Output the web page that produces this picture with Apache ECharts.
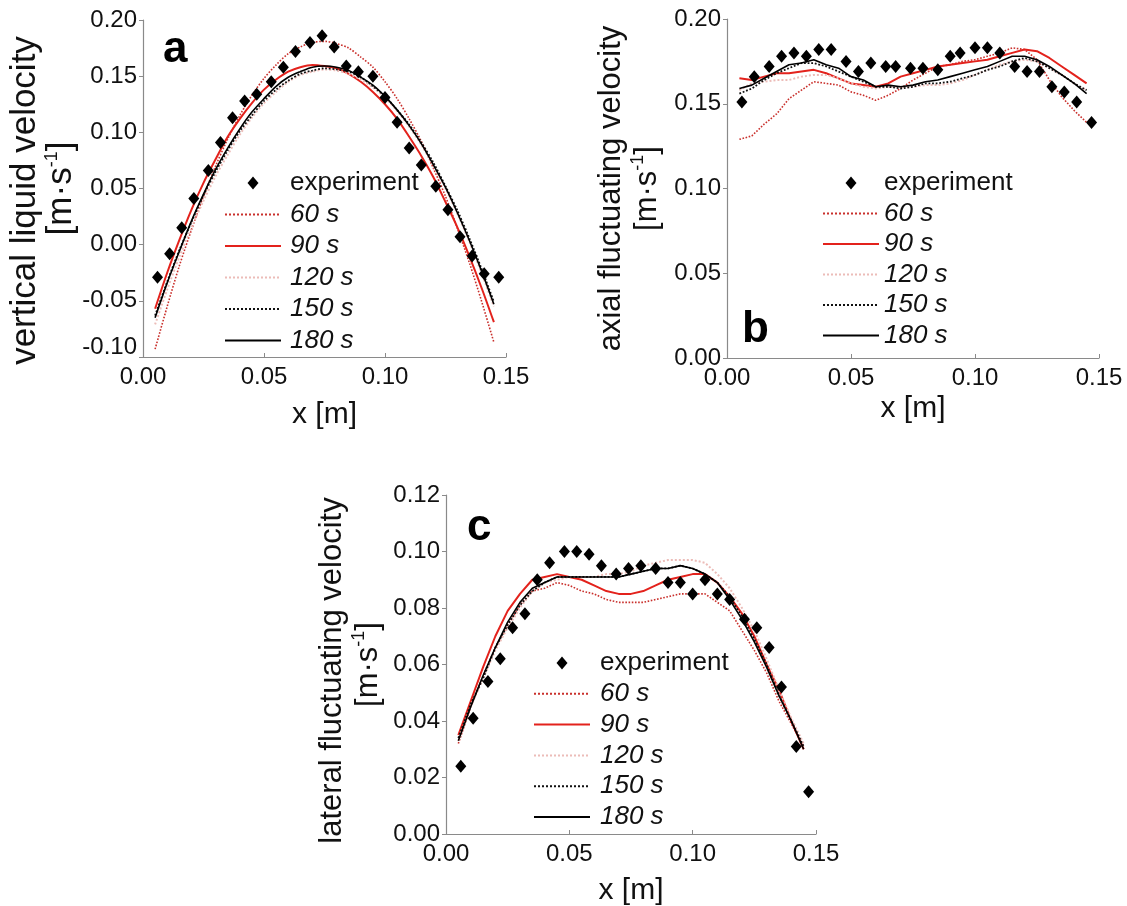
<!DOCTYPE html>
<html><head><meta charset="utf-8">
<script src="https://cdn.jsdelivr.net/npm/echarts@6/dist/echarts.min.js"></script>
<style>html,body{margin:0;padding:0;background:#fff}#c{width:1127px;height:906px}</style>
</head><body><div id="c"></div>
<script>
// ---------- data ----------
const seriesNames = ['experiment', '60 s', '90 s', '120 s', '150 s', '180 s'];
const xTickLabels = ['0.00', '0.05', '0.10', '0.15'];
const xSim = [0.005,0.010,0.015,0.020,0.025,0.030,0.035,0.040,0.045,0.050,0.055,0.060,0.065,0.070,0.075,0.080,0.085,0.090,0.095,0.100,0.105,0.110,0.115,0.120,0.125,0.130,0.135,0.140,0.145];

// panel a : vertical liquid velocity
const aExpX = [0.006,0.011,0.016,0.021,0.027,0.032,0.037,0.042,0.047,0.053,0.058,0.063,0.069,0.074,0.079,0.084,0.089,0.095,0.100,0.105,0.110,0.115,0.121,0.126,0.131,0.136,0.141,0.147];
const aExpY = [-0.029,-0.008,0.015,0.041,0.066,0.091,0.113,0.128,0.134,0.145,0.158,0.172,0.180,0.186,0.176,0.159,0.154,0.150,0.131,0.109,0.086,0.071,0.052,0.031,0.007,-0.010,-0.026,-0.029];
const a60  = [-0.093,-0.055,-0.019,0.013,0.043,0.070,0.094,0.115,0.133,0.148,0.160,0.170,0.176,0.180,0.181,0.179,0.175,0.167,0.158,0.145,0.130,0.112,0.092,0.068,0.043,0.014,-0.017,-0.051,-0.087];
const a90  = [-0.057,-0.025,0.004,0.031,0.055,0.076,0.096,0.112,0.126,0.138,0.147,0.154,0.158,0.160,0.159,0.157,0.152,0.145,0.136,0.125,0.112,0.096,0.079,0.060,0.038,0.015,-0.011,-0.039,-0.069];
const a120 = [-0.071,-0.040,-0.011,0.015,0.039,0.061,0.080,0.098,0.113,0.126,0.136,0.145,0.151,0.154,0.156,0.155,0.152,0.147,0.140,0.131,0.119,0.105,0.089,0.070,0.050,0.027,0.002,-0.026,-0.055];
const a150 = [-0.063,-0.033,-0.005,0.020,0.044,0.065,0.084,0.101,0.115,0.128,0.138,0.146,0.152,0.155,0.157,0.156,0.154,0.149,0.141,0.132,0.120,0.107,0.091,0.073,0.052,0.030,0.005,-0.022,-0.051];
const a180 = [-0.065,-0.034,-0.006,0.021,0.045,0.067,0.086,0.103,0.118,0.130,0.141,0.149,0.154,0.158,0.159,0.158,0.155,0.149,0.142,0.132,0.120,0.106,0.090,0.071,0.051,0.028,0.003,-0.024,-0.053];

// panel b : axial fluctuating velocity
const bExpX = [0.006,0.011,0.017,0.022,0.027,0.032,0.037,0.042,0.048,0.053,0.058,0.064,0.068,0.074,0.079,0.085,0.090,0.094,0.100,0.105,0.110,0.116,0.121,0.126,0.131,0.136,0.141,0.147];
const bExpY = [0.151,0.166,0.172,0.178,0.180,0.178,0.182,0.182,0.175,0.169,0.174,0.172,0.172,0.171,0.171,0.170,0.178,0.180,0.183,0.183,0.180,0.172,0.169,0.169,0.160,0.157,0.151,0.139];
const b60  = [0.129,0.131,0.138,0.144,0.153,0.158,0.163,0.162,0.161,0.157,0.155,0.152,0.155,0.159,0.164,0.168,0.172,0.173,0.175,0.176,0.178,0.180,0.183,0.182,0.176,0.164,0.154,0.146,0.139];
const b90  = [0.165,0.164,0.166,0.168,0.168,0.169,0.170,0.168,0.165,0.162,0.161,0.160,0.162,0.166,0.168,0.170,0.172,0.173,0.174,0.175,0.176,0.178,0.180,0.182,0.181,0.177,0.172,0.167,0.162];
const b120 = [0.158,0.162,0.163,0.164,0.164,0.166,0.167,0.167,0.165,0.162,0.160,0.159,0.160,0.160,0.160,0.161,0.161,0.162,0.164,0.167,0.170,0.173,0.175,0.176,0.175,0.171,0.167,0.162,0.158];
const b150 = [0.156,0.159,0.164,0.168,0.171,0.174,0.174,0.172,0.169,0.166,0.163,0.160,0.160,0.159,0.160,0.162,0.162,0.163,0.165,0.167,0.170,0.172,0.175,0.177,0.175,0.171,0.167,0.162,0.158];
const b180 = [0.159,0.161,0.165,0.169,0.173,0.174,0.176,0.173,0.171,0.166,0.164,0.160,0.161,0.160,0.161,0.163,0.164,0.166,0.168,0.170,0.172,0.175,0.178,0.178,0.176,0.172,0.167,0.162,0.156];

// panel c : lateral fluctuating velocity
const cExpX = [0.006,0.011,0.017,0.022,0.027,0.032,0.037,0.042,0.048,0.053,0.058,0.063,0.069,0.074,0.079,0.085,0.090,0.095,0.100,0.105,0.110,0.115,0.121,0.126,0.131,0.136,0.142,0.147];
const cExpY = [0.024,0.041,0.054,0.062,0.073,0.078,0.090,0.096,0.100,0.100,0.099,0.095,0.092,0.094,0.095,0.094,0.089,0.089,0.085,0.090,0.085,0.083,0.076,0.073,0.066,0.052,0.031,0.015];
const c60  = [0.032,0.045,0.056,0.066,0.074,0.081,0.086,0.087,0.089,0.088,0.086,0.085,0.083,0.082,0.082,0.082,0.083,0.084,0.085,0.085,0.085,0.082,0.079,0.072,0.065,0.057,0.047,0.039,0.031];
const c90  = [0.035,0.047,0.059,0.070,0.079,0.085,0.090,0.091,0.092,0.091,0.090,0.088,0.086,0.085,0.085,0.086,0.088,0.090,0.091,0.092,0.092,0.089,0.084,0.078,0.070,0.060,0.051,0.040,0.030];
const c120 = [0.033,0.045,0.055,0.065,0.073,0.080,0.086,0.089,0.090,0.091,0.091,0.091,0.092,0.092,0.093,0.095,0.096,0.097,0.097,0.097,0.096,0.092,0.087,0.080,0.072,0.062,0.051,0.041,0.032];
const c150 = [0.034,0.046,0.055,0.066,0.074,0.081,0.086,0.089,0.091,0.091,0.091,0.091,0.091,0.091,0.092,0.093,0.094,0.094,0.095,0.094,0.092,0.089,0.084,0.077,0.069,0.060,0.049,0.040,0.031];
const c180 = [0.033,0.045,0.056,0.066,0.075,0.082,0.087,0.089,0.091,0.091,0.091,0.091,0.091,0.091,0.092,0.093,0.094,0.094,0.095,0.094,0.092,0.089,0.083,0.076,0.068,0.059,0.049,0.040,0.030];

// ---------- styles ----------
const FONT = '"Liberation Sans", Arial, Helvetica, sans-serif';
const lineStyles = {
  '60 s':  { color: '#c9302c', type: 'dotted', width: 1.6 },
  '90 s':  { color: '#e3221c', type: 'solid',  width: 2 },
  '120 s': { color: '#ecbcb8', type: 'dotted', width: 2 },
  '150 s': { color: '#111111', type: 'dotted', width: 1.8 },
  '180 s': { color: '#000000', type: 'solid',  width: 1.6 }
};
// legend diamond drawn in the middle of the 56x13 legend key box
const DIAMOND_KEY = 'path://M0,0M56,13M28,0L33.5,6.5L28,13L22.5,6.5Z';

const panels = [
  { grid: { left: 143, top: 20, width: 363, height: 337 }, yMin: -0.1, yMax: 0.2, yInt: 0.05,
    yTitle: 'vertical liquid velocity', yFont: 35, titleShift: 24, nameGap: 62, xNameGap: 43, lowShift: true,
    exp: [aExpX, aExpY], sims: [a60, a90, a120, a150, a180],
    legend: { left: 224, top: 170, gap: 5.5, textPad: 4 },
    letter: { text: 'a', x: 163, y: 50 } },
  { grid: { left: 727, top: 19, width: 372, height: 339 }, yMin: 0, yMax: 0.2, yInt: 0.05,
    yTitle: 'axial fluctuating velocity', yFont: 31, titleShift: 0, nameGap: 62, xNameGap: 36, lowShift: false,
    exp: [bExpX, bExpY], sims: [b60, b90, b120, b150, b180],
    legend: { left: 822, top: 170, gap: 4.5, textPad: 0 },
    letter: { text: 'b', x: 742, y: 330 } },
  { grid: { left: 446, top: 495, width: 370, height: 339 }, yMin: 0, yMax: 0.12, yInt: 0.02,
    yTitle: 'lateral fluctuating velocity', yFont: 31, titleShift: 12, nameGap: 60, xNameGap: 42, lowShift: false,
    exp: [cExpX, cExpY], sims: [c60, c90, c120, c150, c180],
    legend: { left: 533, top: 650, gap: 4.8, textPad: 5 },
    letter: { text: 'c', x: 467, y: 528 } }
];

function fmt(v) { if (Math.abs(v) < 1e-9) v = 0; return v.toFixed(2); }

const option = { backgroundColor: '#fff', animation: false, grid: [], xAxis: [], yAxis: [], series: [], legend: [], graphic: [] };

panels.forEach((p, i) => {
  option.grid.push(Object.assign({ outerBoundsMode: 'none', containLabel: false }, p.grid));
  const axisLine = { show: true, onZero: false, lineStyle: { color: '#8a8a8a', width: 1.2 } };
  option.xAxis.push({
    type: 'value', gridIndex: i, min: 0, max: 0.15, interval: 0.05,
    axisLine, splitLine: { show: false },
    axisTick: { show: true, inside: true, length: 4, lineStyle: { color: '#8a8a8a' } },
    axisLabel: { fontSize: 24, fontFamily: FONT, color: '#111', margin: 8,
      formatter: v => xTickLabels[Math.round(v / 0.05)] || fmt(v) },
    name: 'x [m]', nameLocation: 'middle', nameGap: p.xNameGap,
    nameTextStyle: { fontSize: 30, fontFamily: FONT, color: '#111' }
  });
  option.yAxis.push({
    type: 'value', gridIndex: i, min: p.yMin, max: p.yMax, interval: p.yInt,
    axisLine, splitLine: { show: false },
    axisTick: { show: true, inside: false, length: 4, lineStyle: { color: '#8a8a8a' } },
    axisLabel: { fontSize: 24, fontFamily: FONT, color: '#111', margin: 6,
      formatter: v => (p.lowShift && Math.abs(v - p.yMin) < 1e-9) ? '{lo|' + fmt(v) + '}' : fmt(v),
      rich: { lo: { fontSize: 24, fontFamily: FONT, color: '#111', padding: [0, 0, 20, 0] } } },
    name: '{t1|' + p.yTitle + '}\n{t|[m·s}{sup|-1}{t|]}',
    nameLocation: 'middle', nameRotate: 90, nameGap: p.nameGap,
    nameTextStyle: {
      align: 'center',
      rich: {
        t1: { fontSize: p.yFont, fontFamily: FONT, color: '#111', lineHeight: 36, padding: [0, p.titleShift, 0, 0] },
        t: { fontSize: p.yFont, fontFamily: FONT, color: '#111', lineHeight: 36 },
        sup: { fontSize: 18, fontFamily: FONT, color: '#111', verticalAlign: 'top', lineHeight: 24 }
      }
    }
  });
  option.series.push({
    name: 'experiment', type: 'scatter', xAxisIndex: i, yAxisIndex: i,
    symbol: 'diamond', symbolSize: [11, 13], itemStyle: { color: '#000', opacity: 1 },
    data: p.exp[0].map((x, k) => [x, p.exp[1][k]]), z: 3
  });
  p.sims.forEach((arr, k) => {
    const nm = seriesNames[k + 1];
    const ls = lineStyles[nm];
    option.series.push({
      name: nm, type: 'line', xAxisIndex: i, yAxisIndex: i,
      symbol: 'none', showSymbol: false, smooth: i === 0 ? 0.3 : false,
      lineStyle: ls, itemStyle: { color: ls.color },
      data: xSim.map((x, j) => [x, arr[j]]), z: 2
    });
  });
  option.legend.push({
    orient: 'vertical', left: p.legend.left, top: p.legend.top, padding: 0,
    itemWidth: 56, itemHeight: 13, itemGap: p.legend.gap, selectedMode: false,
    textStyle: { fontSize: 26, fontFamily: FONT, color: '#111', lineHeight: 26, padding: [0, 0, 0, p.legend.textPad] },
    data: seriesNames.map(n => n === 'experiment'
      ? { name: n, icon: DIAMOND_KEY, itemStyle: { color: '#000', opacity: 1 } }
      : { name: n, textStyle: { fontStyle: 'italic' }, itemStyle: { opacity: 0 } })
  });
  option.graphic.push({
    type: 'text', left: p.letter.x, top: p.letter.y - 22,
    style: { text: p.letter.text, font: 'bold 44px ' + FONT, fill: '#000' }
  });
});

const chart = echarts.init(document.getElementById('c'), null, { renderer: 'canvas' });
chart.setOption(option);
</script>
</body></html>
